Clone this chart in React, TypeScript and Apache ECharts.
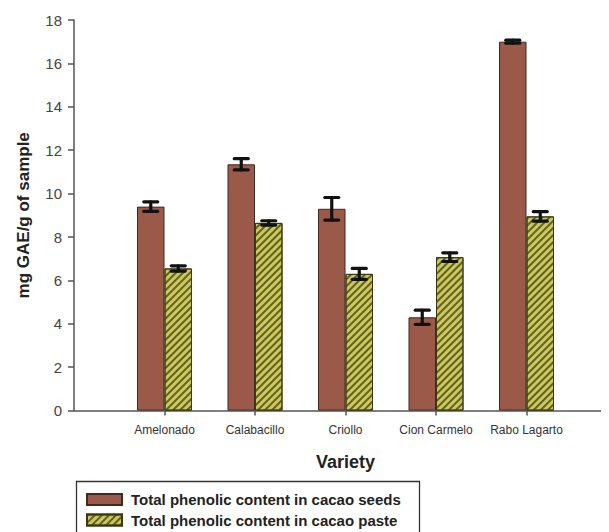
import React, { useEffect, useRef } from "react";
import * as echarts from "echarts";

// Total phenolic content (mg GAE/g of sample) per cacao variety
const categories = ["Amelonado", "Calabacillo", "Criollo", "Cion Carmelo", "Rabo Lagarto"];
const seedValues = [9.4, 11.35, 9.3, 4.3, 17.0];
const seedErrors = [0.22, 0.26, 0.52, 0.33, 0.07];
const pasteValues = [6.55, 8.65, 6.3, 7.07, 8.95];
const pasteErrors = [0.12, 0.1, 0.25, 0.2, 0.22];
const yTicks = { min: 0, max: 18, interval: 2 };

const SEEDS_NAME = "Total phenolic content in cacao seeds";
const PASTE_NAME = "Total phenolic content in cacao paste";
const FONT = "'Liberation Sans', Arial, Helvetica, sans-serif";
const BAR_W = 27.5;

export default function App() {
  const ref = useRef<HTMLDivElement>(null);

  useEffect(() => {
    document.documentElement.style.overflow = "hidden";
    document.body.style.overflow = "hidden";
    const chart = echarts.init(ref.current!, null, { renderer: "svg" });

    // category slots 0..6, varieties sit on slots 1..5
    const axisCats = ["", ...categories, ""];
    const seedData = seedValues.map((v, i) => [i + 1, v]);
    const pasteData = pasteValues.map((v, i) => [i + 1, v]);
    const errData = [
      ...seedValues.map((v, i) => [i + 1, v, seedErrors[i], -1]),
      ...pasteValues.map((v, i) => [i + 1, v, pasteErrors[i], 1]),
    ];

    chart.setOption({
      animation: false,
      textStyle: { fontFamily: FONT },
      grid: {
        left: 66,
        top: 12,
        right: -8,
        bottom: 121.4,
        containLabel: false,
        outerBoundsMode: "none",
      },
      // frame around the legend, running past the bottom edge
      graphic: [
        {
          type: "rect",
          left: 66,
          top: 471,
          shape: { width: 343, height: 80 },
          style: { fill: "none", stroke: "#333", lineWidth: 1.3 },
          silent: true,
        },
      ],
      legend: {
        data: [SEEDS_NAME, PASTE_NAME],
        orient: "vertical",
        left: 78,
        top: 484,
        padding: 0,
        icon: "rect",
        itemWidth: 35,
        itemHeight: 11,
        itemGap: 5.5,
        selectedMode: false,
        textStyle: {
          fontFamily: FONT,
          fontSize: 15,
          fontWeight: "bold",
          color: "#222",
          padding: [0, 0, 0, 4],
        },
      },
      xAxis: {
        type: "category",
        data: axisCats,
        boundaryGap: false,
        name: "Variety",
        nameLocation: "middle",
        nameGap: 42,
        nameTextStyle: { fontFamily: FONT, fontSize: 18, fontWeight: "bold", color: "#222" },
        axisLine: { lineStyle: { color: "#555", width: 1.5 } },
        axisTick: {
          length: 5,
          lineStyle: { color: "#555", width: 1.5 },
          interval: (idx: number) => idx > 0 && idx < axisCats.length - 1,
        },
        axisLabel: {
          interval: 0,
          margin: 13,
          fontFamily: FONT,
          fontSize: 12,
          color: "#333",
        },
        splitLine: { show: false },
      },
      yAxis: {
        type: "value",
        min: yTicks.min,
        max: yTicks.max,
        interval: yTicks.interval,
        name: "mg GAE/g of sample",
        nameLocation: "middle",
        nameGap: 42,
        nameTextStyle: { fontFamily: FONT, fontSize: 17, fontWeight: "bold", color: "#222" },
        axisLine: { show: true, lineStyle: { color: "#555", width: 1.5 } },
        axisTick: { show: true, length: 6, lineStyle: { color: "#555", width: 1.5 } },
        axisLabel: { margin: 12, fontFamily: FONT, fontSize: 15, color: "#444" },
        splitLine: { show: false },
      },
      series: [
        {
          name: SEEDS_NAME,
          type: "bar",
          data: seedData,
          barWidth: BAR_W,
          barGap: "0%",
          itemStyle: { color: "#9B5A49", borderColor: "#3d2a22", borderWidth: 1 },
        },
        {
          name: PASTE_NAME,
          type: "bar",
          data: pasteData,
          barWidth: BAR_W,
          barGap: "0%",
          itemStyle: {
            color: "#CBC85C",
            borderColor: "#3a3a18",
            borderWidth: 1,
            decal: {
              symbol: "rect",
              symbolSize: 1,
              dashArrayX: [1, 0],
              dashArrayY: [1.3, 2.7],
              rotation: -Math.PI / 4,
              color: "rgba(70,70,20,0.8)",
            },
          },
        },
        {
          name: "error",
          type: "custom",
          data: errData,
          encode: { x: 0, y: 1 },
          z: 10,
          renderItem: (params: any, api: any) => {
            const idx = api.value(0);
            const v = api.value(1);
            const e = api.value(2);
            const side = api.value(3);
            const hi = api.coord([idx, v + e]);
            const lo = api.coord([idx, v - e]);
            const cx = hi[0] + (side * BAR_W) / 2;
            const half = 7;
            const style = { stroke: "#111", lineWidth: 3.2, lineCap: "round" };
            return {
              type: "group",
              children: [
                { type: "line", shape: { x1: cx, y1: hi[1], x2: cx, y2: lo[1] }, style },
                { type: "line", shape: { x1: cx - half, y1: hi[1], x2: cx + half, y2: hi[1] }, style },
                { type: "line", shape: { x1: cx - half, y1: lo[1], x2: cx + half, y2: lo[1] }, style },
              ],
            };
          },
        },
      ],
    });

    return () => chart.dispose();
  }, []);

  return <div ref={ref} style={{ width: 601, height: 524 }} />;
}
